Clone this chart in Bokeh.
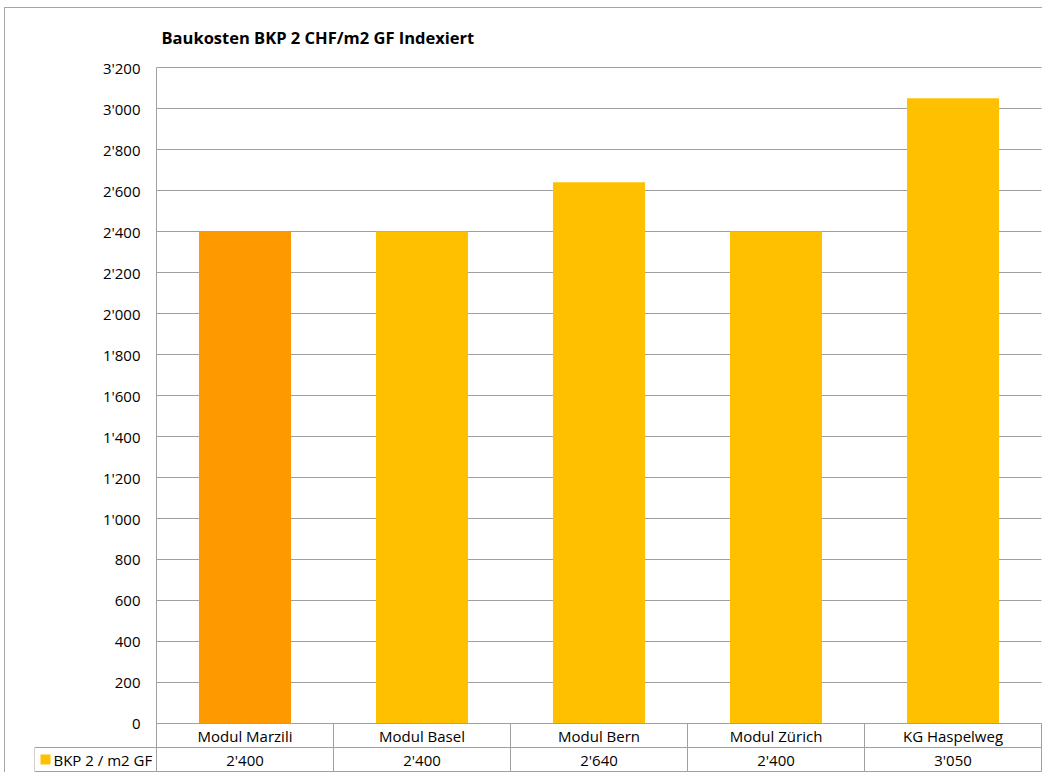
from bokeh.plotting import figure
from bokeh.models import Range1d, ColumnDataSource
from bokeh.core.properties import value
from bokeh.embed import file_html
from bokeh.resources import INLINE

# ---- data ----
categories = ["Modul Marzili", "Modul Basel", "Modul Bern", "Modul Zürich", "KG Haspelweg"]
values = [2400, 2400, 2640, 2400, 3050]
y_ticks = [0, 200, 400, 600, 800, 1000, 1200, 1400, 1600, 1800, 2000,
           2200, 2400, 2600, 2800, 3000, 3200]
series_name = "BKP 2 / m2 GF"
title_text = "Baukosten  BKP 2 CHF/m2 GF Indexiert"
highlight_index = 0

# ---- styles ----
FONT = "Open Sans"
FS = "15px"
ORANGE = "#FF9900"
YELLOW = "#FFC000"
GRID = "#a0a0a0"
TXT = "#000000"


def fmt(v):
    return f"{v:,}".replace(",", "'")


n = len(categories)
W, H = 1042, 772
B_LEFT, B_RIGHT, B_TOP, B_BOTTOM = 34, 0, 55, 0
TOP_PAD = 12                            # px above the top gridline inside the frame
frame_w = W - B_LEFT - B_RIGHT
frame_h = H - B_TOP - B_BOTTOM
legend_px = 122
cat_px = (frame_w - legend_px - 1) / n
xpx = 1 / cat_px                        # x data units per pixel
legend_w = legend_px * xpx
x_end = (frame_w - legend_px) * xpx

row_px = 24
chart_px = frame_h - 2 * row_px - 1 - TOP_PAD
ymax = max(y_ticks)
upx = ymax / chart_px                   # y data units per pixel
row_h = row_px * upx
y_bottom = -2 * row_h
y_start = y_bottom - 1 * upx
y_end = ymax + TOP_PAD * upx

xs = [i + 0.5 for i in range(n)]
colors = [ORANGE if i == highlight_index else YELLOW for i in range(n)]
src = ColumnDataSource(dict(x=xs, top=values, color=colors, cat=categories,
                            lab=[fmt(v) for v in values],
                            ycat=[-0.5 * row_h] * n, ylab=[-1.5 * row_h] * n))
tick_src = ColumnDataSource(dict(y=y_ticks, x0=[0] * len(y_ticks),
                                 x1=[n] * len(y_ticks),
                                 lab=[fmt(v) for v in y_ticks]))

p = figure(width=W, height=H, output_backend="svg", toolbar_location=None,
           x_range=Range1d(-legend_w, x_end), y_range=Range1d(y_start, y_end),
           x_axis_location=None, y_axis_location=None,
           min_border_left=B_LEFT, min_border_right=B_RIGHT,
           min_border_top=B_TOP, min_border_bottom=B_BOTTOM, title=title_text,
           styles={"box-shadow": "inset 4px 7px 0 0 #ffffff, inset 5px 8px 0 0 #a6a6a6"})
p.outline_line_color = None
p.background_fill_color = None
p.border_fill_color = None
p.grid.visible = False
p.title.text_font = FONT
p.title.text_font_size = "16.5px"
p.title.text_font_style = "bold"
p.title.text_color = TXT
p.title.align = "left"
p.title.offset = 161 - B_LEFT
p.title.standoff = 14

# value axis: gridlines, axis line and tick labels from the tick list
p.segment(x0="x0", y0="y", x1="x1", y1="y", source=tick_src,
          line_color=GRID, line_width=1)
p.text(x="x0", y="y", text="lab", source=tick_src, x_offset=-16,
       text_align="right", text_baseline="middle", text_font=value(FONT),
       text_font_size=FS, text_color=TXT)

# bars
p.vbar(x="x", top="top", width=0.52, bottom=0, fill_color="color",
       line_color=None, source=src)

# ---- data table below the axis ----
p.segment(x0=[0, -legend_w, -legend_w], y0=[0, -row_h, y_bottom],
          x1=[n, n, n], y1=[0, -row_h, y_bottom],
          line_color=GRID, line_width=1)
vx = list(range(n + 1))
p.segment(x0=vx, y0=[y_bottom] * len(vx), x1=vx, y1=[0] * len(vx),
          line_color=GRID, line_width=1)
p.segment(x0=[0, -legend_w], y0=[0, y_bottom], x1=[0, -legend_w],
          y1=[ymax, -row_h], line_color=GRID, line_width=1)

p.text(x="x", y="ycat", text="cat", source=src, text_align="center",
       text_baseline="middle", text_font=value(FONT), text_font_size=FS,
       text_color=TXT)
p.text(x="x", y="ylab", text="lab", source=src, text_align="center",
       text_baseline="middle", text_font=value(FONT), text_font_size=FS,
       text_color=TXT)

# legend key of the data table
p.scatter(x=[-legend_w + 11 * xpx], y=[-1.5 * row_h], marker="square",
          size=10, fill_color=YELLOW, line_color=None)
p.text(x=[-legend_w], y=[-1.5 * row_h], text=[series_name], x_offset=19,
       text_align="left", text_baseline="middle", text_font=value(FONT),
       text_font_size=FS, text_color=TXT)

open("out.html", "w").write(file_html(p, INLINE))
